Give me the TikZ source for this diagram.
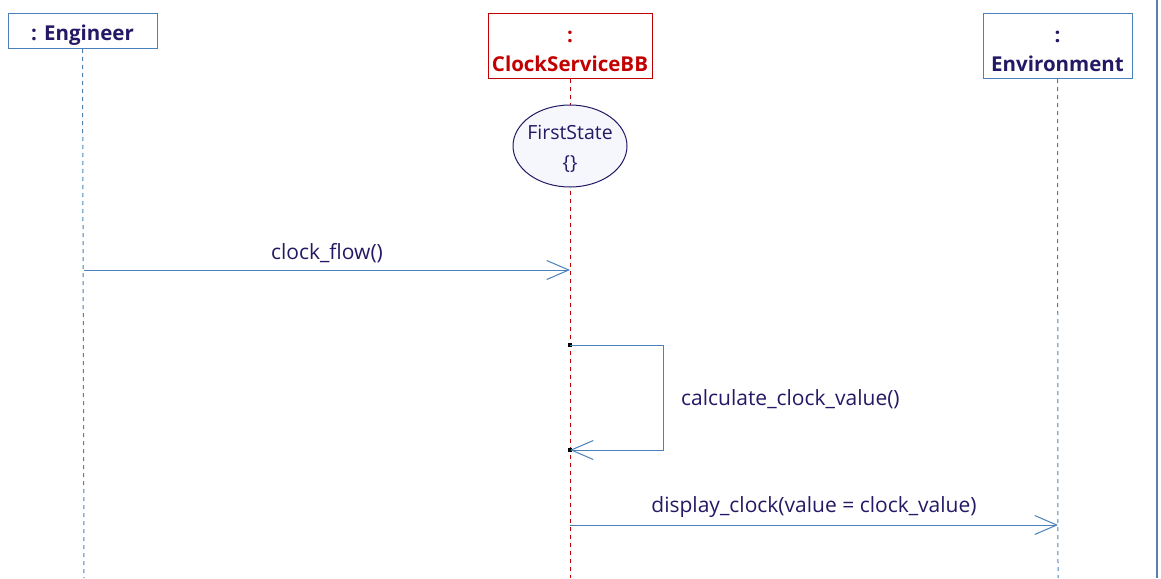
\documentclass[tikz,border=0pt]{standalone}
\usepackage{fontspec}
\setmainfont{Open Sans}
\usetikzlibrary{arrows.meta,shapes.geometric}

\definecolor{lineblue}{RGB}{74,128,188}
\definecolor{navy}{RGB}{35,25,100}
\definecolor{bbred}{RGB}{195,0,0}
\definecolor{statefill}{RGB}{246,247,253}

\tikzset{
  lifebox/.style={draw=lineblue, line width=1pt, fill=white, anchor=north,
    inner sep=0pt, minimum width=149pt},
  headtext/.style={font=\bfseries\fontsize{20.5}{29}\selectfont, text=navy, align=center, inner sep=0pt},
  lifeline/.style={draw=lineblue, line width=1pt, dash pattern=on 4pt off 4pt},
  state/.style={draw=navy, fill=statefill, ellipse, line width=1pt, minimum width=114pt, minimum height=82pt, inner sep=0pt},
  statetext/.style={text=navy, align=center, font=\fontsize{19.5}{30}\selectfont, inner sep=0pt},
  msg/.style={draw=lineblue, line width=1pt, -{Straight Barb[length=22pt,width=19pt]}},
  msglabel/.style={text=navy, font=\fontsize{21}{26}\selectfont, inner sep=0pt},
  stopmark/.style={fill=black, minimum size=4pt, inner sep=0pt}
}

\begin{document}
\begin{tikzpicture}[x=1pt, y=-1pt]
  \useasboundingbox (0,0) rectangle (1161,578);
  \draw[draw=lineblue!70!gray, line width=1.5pt] (1157,0) -- (1157,578);

  % lifeline heads
  \node[lifebox, minimum height=35pt] (eng) at (82.5,13) {};
  \node[lifebox, draw=bbred, minimum width=164pt, minimum height=65pt] (csbb) at (570,13) {};
  \node[lifebox, minimum height=65pt] (env) at (1057.5,13) {};
  \node[headtext, yshift=-4pt] (engT) at (eng) {: Engineer};
  \node[headtext, text=bbred, yshift=-5pt] (csbbT) at (csbb) {:\\ClockServiceBB};
  \node[headtext, yshift=-5pt] (envT) at (env) {:\\Environment};

  \coordinate (engEnd) at (84,578);
  \coordinate (csbbEnd) at (570,578);
  \coordinate (envEnd) at (1058,578);

  \draw[lifeline] (eng.south) -- (engEnd);
  \draw[lifeline, draw=bbred] (csbb.south) -- (csbbEnd);
  \draw[lifeline] (env.south) -- (envEnd);

  % state
  \node[state] (first) at (570,146) {};
  \node[statetext, yshift=-3pt] (firstT) at (first) {FirstState\\\{\}};

  % messages
  \coordinate (engM1) at (84,270);
  \coordinate (csbbM1) at (570,270);
  \draw[msg] (engM1) -- (csbbM1) node[msglabel, midway, above=7pt] (m1) {clock\_flow()};

  \node[stopmark] (s1) at (570,345) {};
  \node[stopmark] (s2) at (570,450) {};
  \draw[msg] (s1.center) -- (663,345) -- (663,450) -- (s2.center);
  \node[msglabel, anchor=west] (m2) at (681,399) {calculate\_clock\_value()};

  \coordinate (csbbM3) at (570,525);
  \coordinate (envM3) at (1058,525);
  \draw[msg] (csbbM3) -- (envM3) node[msglabel, midway, above=7pt] (m3) {display\_clock(value = clock\_value)};
\end{tikzpicture}
\end{document}
